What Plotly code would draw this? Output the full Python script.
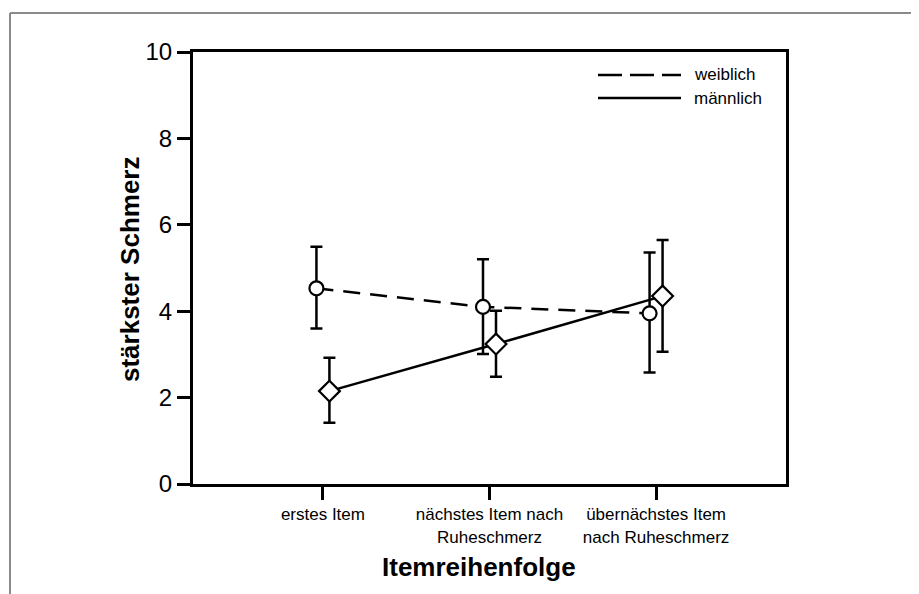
import plotly.graph_objects as go

categories = ["erstes Item", "nächstes Item nach<br>Ruheschmerz", "übernächstes Item<br>nach Ruheschmerz"]
cat_pos = [1, 2, 3]

weiblich_mean = [4.53, 4.10, 3.95]
weiblich_upper = [5.49, 5.20, 5.36]
weiblich_lower = [3.60, 3.01, 2.58]

maennlich_mean = [2.15, 3.24, 4.35]
maennlich_upper = [2.92, 4.01, 5.65]
maennlich_lower = [1.42, 2.48, 3.06]

y_ticks = [0, 2, 4, 6, 8, 10]

offset = 0.039
FONT = "Liberation Sans, Arial, sans-serif"

fig = go.Figure()

def add_series(mean, up, lo, shift, dash, symbol, size, name):
    xs = [p + shift for p in cat_pos]
    fig.add_trace(go.Scatter(
        x=xs, y=mean, name=name, mode="lines+markers",
        line=dict(color="black", width=2.5, dash=dash),
        marker=dict(symbol=symbol, size=size, color="white",
                    line=dict(color="black", width=2.2)),
        error_y=dict(type="data", symmetric=False,
                     array=[u - m for u, m in zip(up, mean)],
                     arrayminus=[m - l for m, l in zip(mean, lo)],
                     color="black", thickness=2.5, width=6),
        showlegend=False,
    ))

add_series(weiblich_mean, weiblich_upper, weiblich_lower, -offset, "17px,10px", "circle", 14, "weiblich")
add_series(maennlich_mean, maennlich_upper, maennlich_lower, offset, "solid", "diamond", 16, "männlich")

# page body offset of the rendered figure
OFF = 8
W, H = 919, 594
# plot area in screen pixels
SL, SR, ST, SB = 193, 786, 52, 484
L = SL - OFF
T = ST - OFF
R = W - (SR - OFF)
B = H - (SB - OFF)
pw, ph = SR - SL, SB - ST

def px(x):
    return (x - SL) / pw

def py(y):
    return (SB - y) / ph

shapes = [
    # outer frame
    dict(type="line", xref="paper", yref="paper", x0=px(10), x1=px(10), y0=py(13), y1=py(640),
         line=dict(color="#8a8a8a", width=2)),
    dict(type="line", xref="paper", yref="paper", x0=px(915), x1=px(915), y0=py(13), y1=py(640),
         line=dict(color="#8a8a8a", width=2)),
    dict(type="line", xref="paper", yref="paper", x0=px(10), x1=px(915), y0=py(13), y1=py(13),
         line=dict(color="#8a8a8a", width=2)),
    # legend samples
    dict(type="line", xref="paper", yref="paper", x0=px(598), x1=px(681), y0=py(75), y1=py(75),
         line=dict(color="black", width=2.5, dash="24px,8px")),
    dict(type="line", xref="paper", yref="paper", x0=px(598), x1=px(681), y0=py(98), y1=py(98),
         line=dict(color="black", width=2.5)),
]

annotations = [
    dict(text="weiblich", xref="paper", yref="paper", x=px(692), y=py(75), xanchor="left",
         yanchor="middle", showarrow=False, font=dict(family=FONT, size=17, color="black")),
    dict(text="männlich", xref="paper", yref="paper", x=px(692), y=py(98), xanchor="left",
         yanchor="middle", showarrow=False, font=dict(family=FONT, size=17, color="black")),
    dict(text="<b>stärkster Schmerz</b>", xref="paper", yref="paper", x=px(130), y=py(270),
         xanchor="center", yanchor="middle", textangle=-90, showarrow=False,
         font=dict(family=FONT, size=26, color="black")),
    dict(text="<b>Itemreihenfolge</b>", xref="paper", yref="paper", x=px(479), y=py(567),
         xanchor="center", yanchor="middle", showarrow=False,
         font=dict(family=FONT, size=26, color="black")),
]

fig.update_layout(
    width=W, height=H,
    margin=dict(l=L, r=R, t=T, b=B),
    paper_bgcolor="white", plot_bgcolor="white",
    font=dict(family=FONT, color="black"),
    shapes=shapes, annotations=annotations,
    xaxis=dict(
        range=[0.22, 3.78], tickvals=cat_pos, ticktext=categories,
        ticks="outside", ticklen=13, tickwidth=2.5, tickcolor="black",
        showline=True, linewidth=3, linecolor="black", mirror=True,
        showgrid=False, zeroline=False,
        tickfont=dict(family=FONT, size=17, color="black"),
    ),
    yaxis=dict(
        range=[0, 10], tickvals=y_ticks,
        ticks="outside", ticklen=13, tickwidth=2.5, tickcolor="black",
        showline=True, linewidth=3, linecolor="black", mirror=True,
        showgrid=False, zeroline=False,
        tickfont=dict(family=FONT, size=24, color="black"),
    ),
)

fig.write_html("out.html")
